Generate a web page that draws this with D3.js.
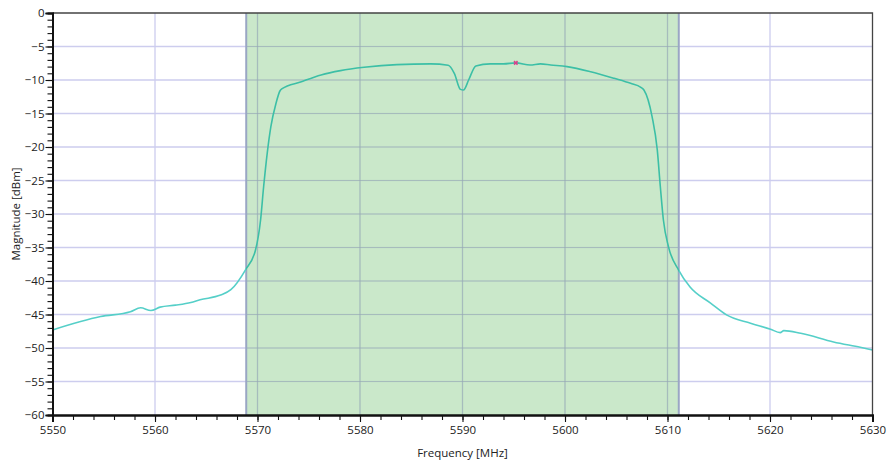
<!DOCTYPE html>
<html>
<head>
<meta charset="utf-8">
<script src="https://cdn.jsdelivr.net/npm/d3@7"></script>
<style>
  html, body { margin: 0; padding: 0; background: #fff; }
  svg { display: block; font-family: "Open Sans", "DejaVu Sans", sans-serif; }
</style>
</head>
<body>
<svg id="chart" width="888" height="462"></svg>
<script>
// Filter response trace: frequency (MHz) and magnitude (dBm)
const freqMHz = [
  5550.0, 5554.7, 5557.6, 5558.6, 5559.6, 5560.5, 5562.0, 5563.5, 5564.4, 5566.4,
  5567.4, 5568.8, 5569.8, 5570.3, 5570.6, 5570.95, 5571.3, 5571.8, 5572.2, 5572.4,
  5574.2, 5576.2, 5578.1, 5580.4, 5583.6, 5586.9, 5588.6, 5589.2, 5589.8, 5590.1,
  5590.6, 5591.3, 5592.7, 5594.0, 5595.2, 5596.6, 5597.6, 5598.6, 5600.2, 5602.5,
  5604.8, 5606.4, 5607.4, 5607.7, 5608.5, 5609.0, 5609.3, 5609.6, 5610.1, 5611.1,
  5612.2, 5614.2, 5615.8, 5618.1, 5620.05, 5621.0, 5621.35, 5623.0, 5626.2, 5628.8,
  5630.0
];
const magDBm = [
  -47.3, -45.3, -44.6, -44.0, -44.4, -43.9, -43.6, -43.2, -42.8, -42.1,
  -41.3, -38.4, -35.4, -30.9, -25.9, -20.9, -17.0, -13.5, -11.6, -11.3,
  -10.3, -9.25, -8.6, -8.1, -7.7, -7.6, -7.8, -9.0, -11.4, -11.5,
  -10.0, -7.9, -7.6, -7.6, -7.45, -7.76, -7.6, -7.76, -8.0, -8.76,
  -9.75, -10.5, -11.1, -11.5, -15.5, -20.4, -25.9, -30.9, -34.9, -38.4,
  -40.9, -43.3, -45.1, -46.3, -47.2, -47.7, -47.4, -47.8, -49.1, -49.9,
  -50.3
];

// Highlighted channel band (MHz)
const bandStart = 5568.9;
const bandEnd = 5611.1;

// Peak marker
const markerFreq = 5595.2;
const markerMag = -7.45;

// Axis tick values
const xTicks = [5550, 5560, 5570, 5580, 5590, 5600, 5610, 5620, 5630];
const yTicks = [0, -5, -10, -15, -20, -25, -30, -35, -40, -45, -50, -55, -60];

const xLabel = "Frequency [MHz]";
const yLabel = "Magnitude [dBm]";

const svg = d3.select("#chart");
const plotL = 52.5, plotR = 872.5, plotT = 13, plotB = 415;

const x = d3.scaleLinear().domain([5550, 5630]).range([plotL, plotR]);
const y = d3.scaleLinear().domain([-60, 0]).range([plotB, plotT]);

// Grid
const grid = svg.append("g");
grid.selectAll("line.h").data(yTicks.filter(d => d !== 0 && d !== -60)).join("line")
  .attr("x1", plotL).attr("x2", plotR)
  .attr("y1", d => y(d)).attr("y2", d => y(d))
  .attr("stroke", "#cdcdee").attr("stroke-width", 1.3);
grid.selectAll("line.v").data(xTicks.filter(d => d !== 5550 && d !== 5630)).join("line")
  .attr("y1", plotT).attr("y2", plotB)
  .attr("x1", d => x(d)).attr("x2", d => x(d))
  .attr("stroke", "#cdcdee").attr("stroke-width", 1.3);

// Band shading
svg.append("rect")
  .attr("x", x(bandStart)).attr("y", plotT)
  .attr("width", x(bandEnd) - x(bandStart)).attr("height", plotB - plotT)
  .attr("fill", "#b6dfb6").attr("fill-opacity", 0.72);

// Grid lines seen through the band
const bandGrid = svg.append("g");
bandGrid.selectAll("line.h").data(yTicks.filter(d => d !== 0 && d !== -60)).join("line")
  .attr("x1", x(bandStart)).attr("x2", x(bandEnd))
  .attr("y1", d => y(d)).attr("y2", d => y(d))
  .attr("stroke", "#8f9eb4").attr("stroke-opacity", 0.5).attr("stroke-width", 1.2);
bandGrid.selectAll("line.v").data(xTicks.filter(d => d > bandStart && d < bandEnd)).join("line")
  .attr("y1", plotT).attr("y2", plotB)
  .attr("x1", d => x(d)).attr("x2", d => x(d))
  .attr("stroke", "#8f9eb4").attr("stroke-opacity", 0.5).attr("stroke-width", 1.2);

// Band edges
svg.selectAll("line.edge").data([bandStart, bandEnd]).join("line")
  .attr("x1", d => x(d)).attr("x2", d => x(d))
  .attr("y1", plotT).attr("y2", plotB)
  .attr("stroke", "#9aa6c4").attr("stroke-width", 2);

// Trace: lighter aqua outside the band, deeper teal inside it
const pts = freqMHz.map((f, i) => [f, magDBm[i]]);
const defs = svg.append("defs");
const grad = defs.append("linearGradient").attr("id", "traceGrad")
  .attr("gradientUnits", "userSpaceOnUse")
  .attr("x1", plotL).attr("x2", plotR).attr("y1", 0).attr("y2", 0);
const bs = (x(bandStart) - plotL) / (plotR - plotL);
const be = (x(bandEnd) - plotL) / (plotR - plotL);
[[0, "#55cfc8"], [bs, "#55cfc8"], [bs, "#3cbfa6"], [be, "#3cbfa6"], [be, "#55cfc8"], [1, "#55cfc8"]]
  .forEach(([o, c]) => grad.append("stop").attr("offset", o).attr("stop-color", c));

svg.append("path")
  .datum(pts)
  .attr("fill", "none")
  .attr("stroke", "url(#traceGrad)")
  .attr("stroke-width", 1.6)
  .attr("stroke-linejoin", "round")
  .attr("d", d3.line().x(d => x(d[0])).y(d => y(d[1])).curve(d3.curveMonotoneX));

// Marker
svg.append("path")
  .attr("d", d3.symbol().type(d3.symbolCross).size(14)())
  .attr("transform", `translate(${x(markerFreq)},${y(markerMag)}) rotate(45)`)
  .attr("fill", "#d8408c");

// Frame (top and right)
svg.append("path")
  .attr("d", `M${plotL},${plotT}H${plotR}V${plotB}`)
  .attr("fill", "none").attr("stroke", "#444").attr("stroke-width", 1.3);

// Axes
const xAxis = d3.axisBottom(x).tickValues(xTicks).tickFormat(d3.format("d")).tickSize(7).tickPadding(4);
const xMinor = d3.axisBottom(x).ticks(40).tickFormat("").tickSize(5);
const yAxis = d3.axisLeft(y).tickValues(yTicks).tickFormat(d3.format("d")).tickSize(7).tickPadding(1);
const yMinor = d3.axisLeft(y).ticks(60).tickFormat("").tickSize(5);

function styleAxis(g) {
  g.select(".domain").attr("stroke", "#111").attr("stroke-width", 2);
  g.selectAll(".tick line").attr("stroke", "#111").attr("stroke-width", 1.1);
  g.selectAll("text").attr("fill", "#222").style("font-size", "11.5px")
    .style("font-family", "'Open Sans', 'DejaVu Sans', sans-serif");
}

svg.append("g").attr("transform", `translate(0,${plotB})`).call(xMinor).call(styleAxis);
svg.append("g").attr("transform", `translate(0,${plotB})`).call(xAxis).call(styleAxis);
svg.append("g").attr("transform", `translate(${plotL},0)`).call(yMinor).call(styleAxis);
svg.append("g").attr("transform", `translate(${plotL},0)`).call(yAxis).call(styleAxis);

// Axis titles
svg.append("text")
  .attr("x", (plotL + plotR) / 2).attr("y", 457)
  .attr("text-anchor", "middle")
  .style("font-size", "11.5px").attr("fill", "#222")
  .text(xLabel);
svg.append("text")
  .attr("transform", `translate(20,${(plotT + plotB) / 2}) rotate(-90)`)
  .attr("text-anchor", "middle")
  .style("font-size", "11.5px").attr("fill", "#222")
  .text(yLabel);
</script>
</body>
</html>
